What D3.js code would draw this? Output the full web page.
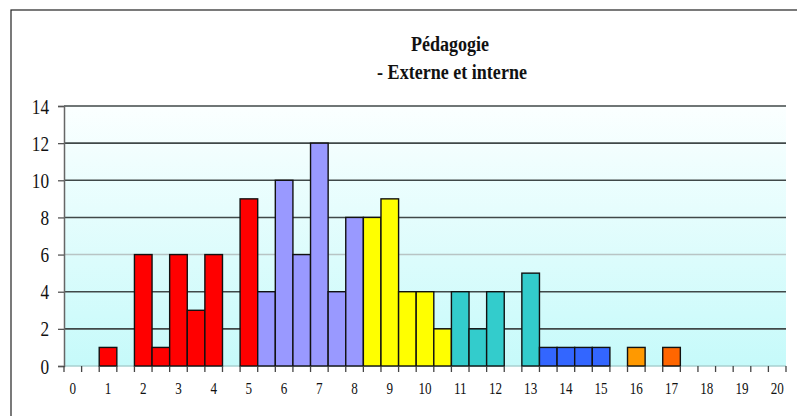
<!DOCTYPE html>
<html>
<head>
<meta charset="utf-8">
<script src="https://cdn.jsdelivr.net/npm/d3@7"></script>
<style>
  html, body { margin: 0; padding: 0; background: #fff; }
  svg { display: block; }
</style>
</head>
<body>
<svg id="chart" width="797" height="416"></svg>
<script>
// Notes (0 to 20, step 0.5) and number of students in each class
const categories = d3.range(0, 41).map(i => i / 2);
const counts = [
  0, 0, 1, 0, 6, 1, 6, 3, 6, 0,
  9, 4, 10, 6, 12, 4, 8, 8, 9, 4,
  4, 2, 4, 2, 4, 0, 5, 1, 1, 1,
  1, 0, 1, 0, 1, 0, 0, 0, 0, 0, 0
];
// Colour group of each class
const groups = [
  "", "", "r", "", "r", "r", "r", "r", "r", "",
  "r", "p", "p", "p", "p", "p", "p", "y", "y", "y",
  "y", "y", "t", "t", "t", "", "t", "b", "b", "b",
  "b", "", "o", "", "d", "", "", "", "", "", ""
];
const groupColors = { r: "#ff0000", p: "#9999ff", y: "#ffff00", t: "#33cccc", b: "#3366ff", o: "#ff9900", d: "#ff6600" };
const yTicks = [0, 2, 4, 6, 8, 10, 12, 14];
const titleLines = ["Pédagogie", "- Externe et interne"];

const FONT = "'Liberation Serif', 'Times New Roman', serif";
const svg = d3.select("#chart");
const plot = { left: 64, right: 786, top: 106, bottom: 366 };

// Outer frame
svg.append("rect")
  .attr("x", 11).attr("y", 10).attr("width", 820).attr("height", 440)
  .attr("fill", "none").attr("stroke", "#222").attr("stroke-width", 1.2);

// Background gradient of the plot area
const defs = svg.append("defs");
const grad = defs.append("linearGradient").attr("id", "bg").attr("x1", 0).attr("y1", 0).attr("x2", 0).attr("y2", 1);
grad.append("stop").attr("offset", "0%").attr("stop-color", "#fbffff");
grad.append("stop").attr("offset", "100%").attr("stop-color", "#c6fafa");

const x = d3.scaleBand().domain(d3.range(categories.length)).range([plot.left, plot.right]).padding(0);
const y = d3.scaleLinear().domain([0, 14]).range([plot.bottom, plot.top]);

svg.append("rect")
  .attr("x", plot.left).attr("y", plot.top)
  .attr("width", plot.right - plot.left).attr("height", plot.bottom - plot.top)
  .attr("fill", "url(#bg)");

// Gridlines
svg.append("g").selectAll("line").data(yTicks.filter(d => d > 0)).join("line")
  .attr("x1", plot.left).attr("x2", plot.right)
  .attr("y1", d => y(d)).attr("y2", d => y(d))
  .attr("stroke", d => d === 6 ? "#b8c4c4" : "#404848")
  .attr("stroke-width", 1.6);

// Baseline
svg.append("line")
  .attr("x1", plot.left).attr("x2", plot.right)
  .attr("y1", y(0)).attr("y2", y(0))
  .attr("stroke", "#a8d0d0").attr("stroke-width", 1.5);

// Bars
svg.append("g").selectAll("rect").data(categories.map((c, i) => ({ i, v: counts[i], g: groups[i] })).filter(d => d.v > 0))
  .join("rect")
  .attr("x", d => x(d.i))
  .attr("y", d => y(d.v))
  .attr("width", x.bandwidth())
  .attr("height", d => y(0) - y(d.v))
  .attr("fill", d => groupColors[d.g])
  .attr("stroke", "#111").attr("stroke-width", 1.4);

// Y axis
const yAxis = svg.append("g").attr("transform", `translate(${plot.left},0)`)
  .call(d3.axisLeft(y).tickValues(yTicks).tickSize(6).tickPadding(0).tickFormat(d3.format("d")));
yAxis.attr("font-family", null).attr("font-size", null);
yAxis.select(".domain").attr("stroke", "#666").attr("stroke-width", 1.5);
yAxis.selectAll(".tick line").attr("stroke", "#555").attr("stroke-width", 1.3);
yAxis.selectAll(".tick text")
  .attr("x", 0).attr("dy", "0.34em")
  .style("font-family", FONT).style("font-size", "21px").attr("fill", "#111")
  .attr("text-anchor", "end")
  .attr("transform", "translate(-15,0) scale(0.82,1)");

// X axis: ticks at class boundaries, labels on whole notes
const xb = d3.scaleLinear().domain([0, categories.length]).range([plot.left, plot.right]);
svg.append("g").selectAll("line").data(d3.range(0, categories.length + 1)).join("line")
  .attr("x1", d => xb(d)).attr("x2", d => xb(d))
  .attr("y1", y(0)).attr("y2", y(0) + 6)
  .attr("stroke", "#444").attr("stroke-width", 1.3);

svg.append("g").selectAll("text")
  .data(categories.map((c, i) => ({ c, i })).filter(d => Number.isInteger(d.c)))
  .join("text")
  .attr("transform", d => `translate(${x(d.i) + x.bandwidth() / 2},394) scale(0.82,1)`)
  .attr("text-anchor", "middle")
  .style("font-family", FONT).style("font-size", "16px").attr("fill", "#111")
  .text(d => d.c);

// Title
svg.append("g").selectAll("text").data(titleLines).join("text")
  .attr("transform", (d, i) => `translate(${i === 0 ? 450 : 452},${i === 0 ? 51 : 79}) scale(0.86,1)`)
  .attr("text-anchor", "middle")
  .style("font-family", FONT).style("font-size", "21px").style("font-weight", "bold").attr("fill", "#111")
  .text(d => d);
</script>
</body>
</html>
